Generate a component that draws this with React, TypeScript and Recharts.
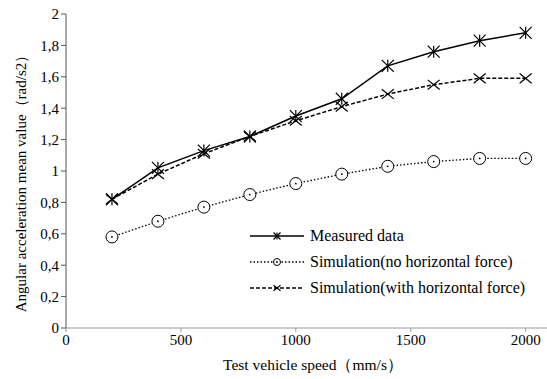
import { LineChart, Line, XAxis, YAxis } from 'recharts';

const speeds = [200, 400, 600, 800, 1000, 1200, 1400, 1600, 1800, 2000];
const measured = [0.82, 1.02, 1.13, 1.22, 1.35, 1.46, 1.67, 1.76, 1.83, 1.88];
const simNoForce = [0.58, 0.68, 0.77, 0.85, 0.92, 0.98, 1.03, 1.06, 1.08, 1.08];
const simWithForce = [0.82, 0.98, 1.11, 1.22, 1.32, 1.41, 1.49, 1.55, 1.59, 1.59];
const xTicks = [0, 500, 1000, 1500, 2000];
const yTicks = [0, 0.2, 0.4, 0.6, 0.8, 1, 1.2, 1.4, 1.6, 1.8, 2];

const data = speeds.map((s, i) => ({
  speed: s,
  measured: measured[i],
  simNoForce: simNoForce[i],
  simWithForce: simWithForce[i],
}));

const FONT = '"Liberation Serif", "Times New Roman", serif';

const Star = ({ cx, cy, r = 6 }: any) => (
  <g stroke="#000" strokeWidth={1.2} fill="none">
    <line x1={cx - r} y1={cy - r} x2={cx + r} y2={cy + r} />
    <line x1={cx - r} y1={cy + r} x2={cx + r} y2={cy - r} />
    <line x1={cx} y1={cy - r} x2={cx} y2={cy + r} />
  </g>
);

const Cross = ({ cx, cy, r = 6 }: any) => (
  <g stroke="#000" strokeWidth={1.2} fill="none">
    <line x1={cx - r} y1={cy - r * 0.8} x2={cx + r} y2={cy + r * 0.8} />
    <line x1={cx - r} y1={cy + r * 0.8} x2={cx + r} y2={cy - r * 0.8} />
  </g>
);

const Ring = ({ cx, cy, r = 6 }: any) => (
  <g>
    <circle cx={cx} cy={cy} r={r} stroke="#000" strokeWidth={1} fill="#fff" />
    <circle cx={cx} cy={cy} r={0.9} fill="#000" />
  </g>
);

const legendItems = [
  { name: 'Measured data', dash: undefined, Marker: Star },
  { name: 'Simulation(no horizontal force)', dash: '1.5 2', Marker: Ring },
  { name: 'Simulation(with horizontal force)', dash: '4 2', Marker: Cross },
];

const fmt = (v: number) => String(Math.round(v * 10) / 10).replace('.', ',');

export default function App() {
  return (
    <div style={{ position: 'absolute', left: 0, top: 0, width: 547, height: 379, background: '#fff' }}>
      <LineChart
        width={547}
        height={379}
        data={data}
        margin={{ top: 14, right: 0, left: 0, bottom: 0 }}
        style={{ fontFamily: FONT }}
      >
        <XAxis
          dataKey="speed"
          type="number"
          domain={[0, 2093]}
          ticks={xTicks}
          height={51}
          stroke="#999"
          tickSize={4}
          tick={{ fill: '#000', fontSize: 15, fontFamily: FONT }}
          label={{
            content: () => (
              <text x={313} y={370} textAnchor="middle" fontSize={15.5} fontFamily={FONT} fill="#000">
                Test vehicle speed（mm/s）
              </text>
            ),
          }}
        />
        <YAxis
          type="number"
          domain={[0, 2]}
          ticks={yTicks}
          width={66}
          stroke="#555"
          tickSize={5}
          tickFormatter={fmt}
          tick={{ fill: '#000', fontSize: 15, fontFamily: FONT }}
          label={{
            content: () => (
              <text
                transform="translate(26,180) rotate(-90)"
                textAnchor="middle"
                fontSize={15}
                fontFamily={FONT}
                fill="#000"
              >
                Angular acceleration mean value（rad/s2）
              </text>
            ),
          }}
        />
        <Line
          dataKey="simNoForce"
          stroke="#000"
          strokeWidth={1.3}
          strokeDasharray="1.5 2"
          isAnimationActive={false}
          dot={(p: any) => <Ring key={p.index} cx={p.cx} cy={p.cy} />}
        />
        <Line
          dataKey="simWithForce"
          stroke="#000"
          strokeWidth={1.5}
          strokeDasharray="4 2"
          isAnimationActive={false}
          dot={(p: any) => <Cross key={p.index} cx={p.cx} cy={p.cy} />}
        />
        <Line
          dataKey="measured"
          stroke="#000"
          strokeWidth={1.5}
          isAnimationActive={false}
          dot={(p: any) => <Star key={p.index} cx={p.cx} cy={p.cy} />}
        />
      </LineChart>
      <svg style={{ position: 'absolute', left: 248, top: 224 }} width={299} height={80}>
        {legendItems.map((it, i) => {
          const y = 12 + i * 26;
          return (
            <g key={it.name}>
              <line x1={2} y1={y} x2={56} y2={y} stroke="#000" strokeWidth={1.3} strokeDasharray={it.dash} />
              <it.Marker cx={29} cy={y} r={3.5} />
              <text x={62} y={y + 5} fontSize={16} fontFamily={FONT} fill="#000">
                {it.name}
              </text>
            </g>
          );
        })}
      </svg>
    </div>
  );
}
